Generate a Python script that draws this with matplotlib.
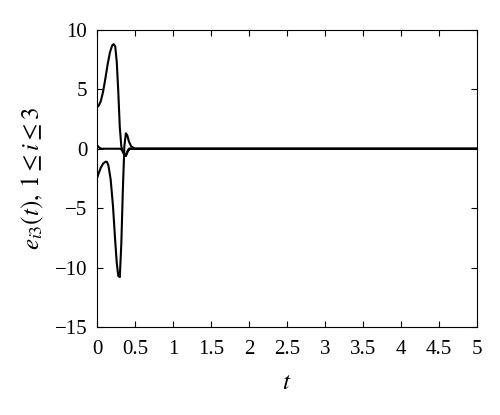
import matplotlib
matplotlib.use("Agg")
import matplotlib.pyplot as plt

# curve with the positive peak
t_a = [0, 0.02, 0.05, 0.08, 0.11, 0.14, 0.17, 0.20, 0.22, 0.24, 0.26, 0.28,
       0.30, 0.32, 0.34, 0.36, 0.38, 0.40, 0.43, 0.5, 5]
e_a = [3.5, 3.6, 4.0, 4.8, 5.9, 7.1, 8.1, 8.7, 8.8, 8.6, 7.3, 4.8,
       1.8, 0.2, -0.3, -0.5, -0.6, -0.3, 0, 0, 0]

# curve with the negative peak
t_b = [0, 0.02, 0.05, 0.08, 0.11, 0.13, 0.15, 0.18, 0.21, 0.24, 0.26, 0.28,
       0.30, 0.32, 0.34, 0.36, 0.38, 0.40, 0.42, 0.45, 0.5, 5]
e_b = [-2.5, -2.1, -1.6, -1.25, -1.1, -1.1, -1.4, -2.6, -4.8, -7.8, -9.6, -10.7,
       -10.8, -8.0, -3.5, 0.2, 1.3, 1.1, 0.6, 0.2, 0, 0]

# small curve near zero
t_c = [0, 0.02, 0.04, 0.06, 0.30, 0.33, 0.36, 0.38, 0.40, 0.42, 0.45, 5]
e_c = [0.3, 0.15, 0.05, 0, 0, -0.1, -0.4, -0.6, -0.2, 0, 0, 0]

xticks = [0, 0.5, 1, 1.5, 2, 2.5, 3, 3.5, 4, 4.5, 5]
xlabels = ["0", "0.5", "1", "1.5", "2", "2.5", "3", "3.5", "4", "4.5", "5"]
yticks = [-15, -10, -5, 0, 5, 10]

plt.rcParams['font.family'] = 'Liberation Serif'
plt.rcParams['mathtext.fontset'] = 'stix'

fig = plt.figure(figsize=(5, 4.15), dpi=100)
ax = fig.add_axes([0.194, 0.212, 0.76, 0.716])

for t, e in [(t_a, e_a), (t_b, e_b), (t_c, e_c)]:
    ax.plot(t, e, color='black', lw=1.5)

ax.set_xlim(0, 5)
ax.set_ylim(-15, 10)
ax.set_xticks(xticks)
ax.set_xticklabels(xlabels)
ax.set_yticks(yticks)
ax.set_yticklabels(["\u2212" + str(-v) if v < 0 else str(v) for v in yticks])
ax.tick_params(direction='in', top=True, right=True, labelsize=15, length=4)
ax.tick_params(axis='x', pad=9)
ax.tick_params(axis='y', pad=7)
ax.set_xlabel('$t$', fontsize=18, labelpad=10)
ax.set_ylabel(r'$e_{i3}(t),\, 1 \leq i \leq 3$', fontsize=18, labelpad=6)

fig.savefig('out.png')
